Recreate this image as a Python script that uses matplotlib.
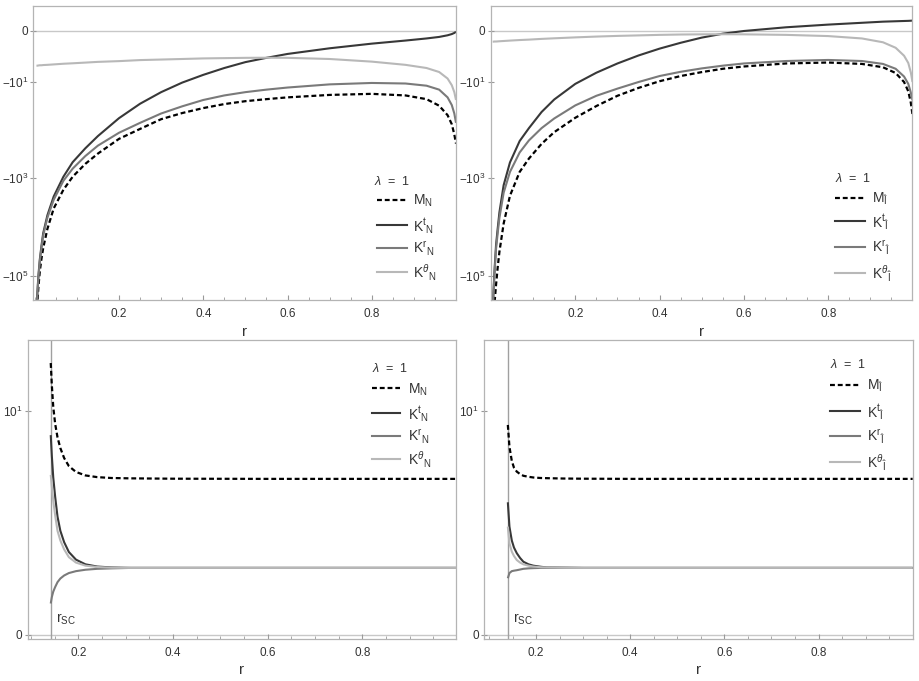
"""Mathematica 風の 4 パネル図 (M, K^t, K^r, K^theta vs r) を matplotlib で再現する."""

import matplotlib

matplotlib.use("Agg")
import matplotlib.pyplot as plt
import numpy as np
from matplotlib.lines import Line2D
from matplotlib.ticker import FixedLocator, MultipleLocator

plt.rcParams["font.family"] = ["Liberation Sans", "DejaVu Sans"]
plt.rcParams["mathtext.fontset"] = "custom"
plt.rcParams["mathtext.rm"] = "Liberation Sans"
plt.rcParams["mathtext.it"] = "Liberation Sans:italic"
plt.rcParams["mathtext.bf"] = "Liberation Sans:bold"

# ---- data ----
r_top = [0.004, 0.006, 0.0086, 0.012, 0.016, 0.02, 0.03, 0.045, 0.068, 0.09, 0.12, 0.15,
         0.2, 0.25, 0.3, 0.35, 0.4, 0.45, 0.5, 0.55, 0.6, 0.7, 0.8, 0.88, 0.93, 0.96, 0.98,
         0.99, 0.996, 1.0]

# upper left: N
M_N_top = [-9e5, -3.8e5, -1.7e5, -8e4, -4.4e4, -2.7e4, -1.1e4, -4200, -1750, -950, -520, -320,
           -160, -100, -63, -47, -37, -30.5, -26.5, -24, -22, -19.5, -18.5, -20, -24, -33, -52,
           -80, -130, -200]
Kt_N_top = [-6e5, -2.3e5, -1e5, -4.6e4, -2.4e4, -1.35e4, -5800, -2400, -950, -480, -250, -140,
            -60, -30, -17, -10.5, -7.0, -4.8, -3.4, -2.6, -2.0, -1.3, -0.85, -0.6, -0.45, -0.35,
            -0.25, -0.18, -0.12, -0.06]
Kr_N_top = [-6.5e5, -2.5e5, -1.1e5, -5e4, -2.7e4, -1.5e4, -6500, -2800, -1150, -650, -360, -220,
            -120, -75, -48, -34, -25, -20, -17, -15, -13.5, -11.5, -10.7, -11, -12.3, -15, -22,
            -32, -48, -75]
Kth_N_top = [-4.2, -4.2, -4.15, -4.1, -4.1, -4.05, -4.0, -3.9, -3.75, -3.65, -3.5, -3.35,
             -3.2, -3.0, -2.9, -2.8, -2.7, -2.65, -2.6, -2.58, -2.6, -2.8, -3.3, -4.0, -4.8, -6.0,
             -8.5, -12, -17, -25]

# upper right: I-hat
M_I_top = [-3e6, -1e6, -3.4e5, -1.5e5, -6.5e4, -3.2e4, -8500, -2300, -750, -400, -200, -115,
           -58, -33, -20, -13.5, -9.6, -7.3, -5.9, -4.9, -4.3, -3.6, -3.4, -3.7, -4.5, -6.2, -10,
           -16, -28, -50]
Kt_I_top = [-5e5, -2e5, -7e4, -2.3e4, -1.05e4, -5000, -1400, -480, -175, -95, -44, -24,
            -11, -6.1, -3.6, -2.16, -1.29, -0.74, -0.365, -0.135, 0.0, 0.19, 0.35, 0.47, 0.55,
            0.58, 0.6, 0.61, 0.62, 0.63]
Kr_I_top = [-5.5e5, -2.2e5, -8e4, -2.8e4, -1.3e4, -6500, -2000, -750, -300, -170, -95, -60,
            -32, -20, -14, -10, -7.3, -5.8, -4.8, -4.1, -3.6, -3.1, -2.9, -3.1, -3.7, -4.9, -7.5,
            -11, -17, -25]
Kth_I_top = [-0.65, -0.65, -0.64, -0.64, -0.63, -0.62, -0.6, -0.57, -0.53, -0.5, -0.45, -0.41,
             -0.35, -0.3, -0.26, -0.23, -0.2, -0.18, -0.17, -0.165, -0.17, -0.2, -0.27, -0.42,
             -0.7, -1.2, -2.2, -3.5, -6, -10]

# lower left: N, starting at r_SC
rsc_N = 0.1417
r_bot_N = [0.1417, 0.144, 0.147, 0.151, 0.156, 0.162, 0.17, 0.18, 0.195, 0.215, 0.24, 0.27,
           0.31, 0.4, 0.6, 0.8, 1.0]
M_N_bot = [17.4, 13.5, 10.5, 8.6, 7.3, 6.4, 5.65, 5.1, 4.73, 4.52, 4.42, 4.37,
           4.35, 4.33, 4.32, 4.32, 4.32]
Kt_N_bot = [7.5, 5.8, 4.4, 3.4, 2.55, 2.05, 1.7, 1.43, 1.24, 1.13, 1.08, 1.06,
            1.05, 1.05, 1.05, 1.05, 1.05]
Kr_N_bot = [0.40, 0.50, 0.59, 0.67, 0.76, 0.83, 0.89, 0.94, 0.98, 1.01, 1.03, 1.04,
            1.05, 1.05, 1.05, 1.05, 1.05]
Kth_N_bot = [4.55, 3.9, 3.2, 2.6, 2.05, 1.75, 1.5, 1.3, 1.17, 1.1, 1.07, 1.055,
             1.05, 1.05, 1.05, 1.05, 1.05]

# lower right: I-hat
rsc_I = 0.140
r_bot_I = [0.14, 0.1434, 0.1484, 0.153, 0.159, 0.166, 0.173, 0.184, 0.194, 0.21, 0.223, 0.258,
           0.3, 0.4, 0.6, 0.8, 1.0]
M_I_bot = [8.48, 6.5, 5.45, 5.0, 4.75, 4.6, 4.5, 4.44, 4.4, 4.37, 4.36, 4.34,
           4.33, 4.32, 4.32, 4.32, 4.32]
Kt_I_bot = [3.14, 2.19, 1.75, 1.55, 1.40, 1.28, 1.19, 1.13, 1.10, 1.075, 1.06, 1.055,
            1.05, 1.05, 1.05, 1.05, 1.05]
Kr_I_bot = [0.835, 0.94, 0.98, 0.99, 1.0, 1.015, 1.03, 1.04, 1.045, 1.05, 1.05, 1.05,
            1.05, 1.05, 1.05, 1.05, 1.05]
Kth_I_bot = [2.19, 1.67, 1.44, 1.33, 1.23, 1.17, 1.13, 1.10, 1.08, 1.065, 1.06, 1.053,
             1.05, 1.05, 1.05, 1.05, 1.05]

labels_N = [r"$\mathrm{M}_{\mathrm{N}}$", r"$\mathrm{K}^{\mathrm{t}}{}_{\mathrm{N}}$",
            r"$\mathrm{K}^{\mathrm{r}}{}_{\mathrm{N}}$", r"$\mathrm{K}^{\theta}{}_{\mathrm{N}}$"]
labels_I = [r"$\mathrm{M}_{\hat{\mathrm{I}}}$", r"$\mathrm{K}^{\mathrm{t}}{}_{\hat{\mathrm{I}}}$",
            r"$\mathrm{K}^{\mathrm{r}}{}_{\hat{\mathrm{I}}}$", r"$\mathrm{K}^{\theta}{}_{\hat{\mathrm{I}}}$"]

# ---- style ----
FRAME = "#b4b4b4"
TXT = "#333333"
STYLES = [
    dict(color="black", lw=1.6, dashes=(2.2, 1.3)),
    dict(color="#383838", lw=1.5),
    dict(color="#7a7a7a", lw=1.5),
    dict(color="#b8b8b8", lw=1.5),
]

W, H = 920, 681


def slog(y):
    y = np.asarray(y, dtype=float)
    return np.sign(y) * np.log10(1 + np.abs(y))


def islog(f):
    f = np.asarray(f, dtype=float)
    return np.sign(f) * (10 ** np.abs(f) - 1)


def px_axes(fig, left, top, right, bottom):
    return fig.add_axes([left / W, 1 - bottom / H, (right - left) / W, (bottom - top) / H])


def style_axes(ax):
    for sp in ax.spines.values():
        sp.set_color(FRAME)
        sp.set_linewidth(0.9)
    ax.xaxis.set_major_locator(FixedLocator([0.2, 0.4, 0.6, 0.8]))
    ax.xaxis.set_minor_locator(MultipleLocator(0.05))
    ax.tick_params(axis="x", which="major", direction="in", length=3.5, width=0.8,
                   color="#999999", labelsize=8.5, labelcolor=TXT, pad=6)
    ax.tick_params(axis="x", which="minor", direction="in", length=2, width=0.6, color="#999999")
    ax.tick_params(axis="y", which="major", direction="inout", length=4, width=0.8,
                   color="#999999", labelsize=8.5, labelcolor=TXT, pad=2)
    ax.set_xlabel("r", fontsize=11, color=TXT, labelpad=3)


def add_legend(fig, labels, title_xy, line_x0, line_x1, text_x, rows_y):
    """凡例をピクセル位置指定で描く (Mathematica の LineLegend 風に等間隔で並べる)."""
    fig.text(title_xy[0] / W, 1 - title_xy[1] / H, r"$\lambda$  =  1", fontsize=9,
             color=TXT, ha="left", va="center")
    for lab, s, y in zip(labels, STYLES, rows_y):
        fig.add_artist(Line2D([line_x0 / W, line_x1 / W], [1 - y / H, 1 - y / H],
                              transform=fig.transFigure, **s))
        fig.text(text_x / W, 1 - (y + 1) / H, lab, fontsize=10, color=TXT,
                 ha="left", va="center")


def draw(ax, r, series):
    for y, s in zip(series, STYLES):
        ax.plot(r, y, solid_capstyle="butt", **s)


fig = plt.figure(figsize=(W / 100, H / 100), dpi=100)

# upper panels
top_specs = [
    ((33.5, 5.5, 456, 300), (-0.003, 1.0), [M_N_top, Kt_N_top, Kr_N_top, Kth_N_top]),
    ((491, 6, 912.5, 300), (0.0, 1.0), [M_I_top, Kt_I_top, Kr_I_top, Kth_I_top]),
]
for rect, xl, series in top_specs:
    ax = px_axes(fig, *rect)
    ax.set_yscale("function", functions=(slog, islog))
    ax.axhline(0, color="#c8c8c8", lw=1, zorder=0)
    draw(ax, r_top, series)
    ax.set_xlim(*xl)
    ax.set_ylim(islog(-5.49), islog(0.51))
    ax.yaxis.set_major_locator(FixedLocator([0, -10, -1000, -100000]))
    ax.set_yticklabels(["0", r"$-10^{1}$", r"$-10^{3}$", r"$-10^{5}$"])
    ax.yaxis.set_minor_locator(FixedLocator([]))
    style_axes(ax)

# lower panels
bot_specs = [
    ((27.7, 340, 456, 639), (0.093, 0.998), rsc_N, r_bot_N, [M_N_bot, Kt_N_bot, Kr_N_bot, Kth_N_bot]),
    ((484.3, 340, 912.7, 639), (0.09, 1.0), rsc_I, r_bot_I, [M_I_bot, Kt_I_bot, Kr_I_bot, Kth_I_bot]),
]
for rect, xl, rsc, r, series in bot_specs:
    ax = px_axes(fig, *rect)
    ax.set_yscale("function", functions=(slog, islog))
    ax.axhline(0, color="#c8c8c8", lw=1, zorder=0)
    ax.axvline(rsc, color="#a0a0a0", lw=1, zorder=0)
    draw(ax, r, series)
    ax.set_xlim(*xl)
    ax.set_ylim(islog(-0.019), islog(1.372))
    ax.yaxis.set_major_locator(FixedLocator([0, 10]))
    ax.set_yticklabels(["0", r"$10^{1}$"])
    ax.yaxis.set_minor_locator(FixedLocator([]))
    style_axes(ax)
    ax.text(rsc + 0.012, islog(0.035), r"$\mathrm{r}_{\mathrm{SC}}$", fontsize=10,
            color=TXT, ha="left", va="bottom")

# legends
add_legend(fig, labels_N, (374, 181), 376.7, 406.7, 413, [200, 225, 248, 272])
add_legend(fig, labels_I, (835, 178), 835, 865, 871.7, [197.7, 221, 246.7, 272.7])
add_legend(fig, labels_N, (372, 368), 371.7, 400, 408.3, [388.3, 413.3, 435.7, 459.3])
add_legend(fig, labels_I, (830, 364), 830, 860, 866.7, [385, 411, 435.7, 461.7])

fig.savefig("out.png", dpi=100, facecolor="white")
